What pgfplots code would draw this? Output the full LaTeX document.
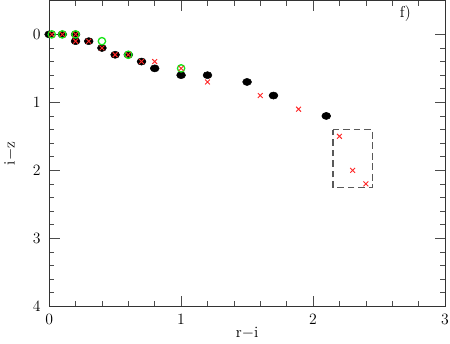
\documentclass[border=0pt]{standalone}
\usepackage{pgfplots}
\pgfplotsset{compat=1.18}
\definecolor{ptred}{rgb}{1,0.15,0.15}
\definecolor{ptgreen}{rgb}{0.1,0.9,0.1}
\begin{document}
\begin{tikzpicture}[trim right=(R)]
  \begin{axis}[
    width = 10.6cm,
    height = 8.19cm,
    scale only axis,
    xmin=0, xmax=3, ymin=-0.5, ymax=4,
    y dir=reverse,
    xtick={0,1,2,3}, ytick={0,1,2,3,4},
    minor x tick num=4, minor y tick num=4,
    tick align=inside,
    major tick length=0.28cm, minor tick length=0.14cm,
    every tick/.style={black!70, line width=0.5pt},
    axis line style={black!80, line width=0.6pt},
    tick label style={font=\large},
    yticklabel style={xshift=-3pt},
    xticklabel style={yshift=-3pt},
    xlabel={r$-$i}, ylabel={i$-$z},
    label style={font=\large},
    xlabel style={yshift=5pt},
    ylabel style={yshift=6pt},
    clip=false
  ]

  % black filled points
  \addplot[only marks, mark=*, mark size=2.7pt, black, mark options={xscale=1.25}]
  coordinates {
    (0,0) (0.1,0) (0.2,0) (0.2,0.1) (0.3,0.1) (0.4,0.2) (0.5,0.3)
    (0.6,0.3) (0.7,0.4) (0.8,0.5) (1.0,0.6) (1.2,0.6) (1.5,0.7)
    (1.7,0.9) (2.1,1.2)
  };

  % green open circles
  \addplot[only marks, mark=o, mark size=2.8pt, ptgreen, line width=1pt]
  coordinates {
    (0.02,0) (0.1,0) (0.2,0) (0.4,0.1) (0.6,0.3) (1.0,0.5)
  };

  % red crosses
  \addplot[only marks, mark=x, mark size=2.6pt, ptred, line width=0.7pt]
  coordinates {
    (0.02,0) (0.1,0) (0.2,0) (0.2,0.1) (0.3,0.1) (0.4,0.2) (0.5,0.3)
    (0.6,0.3) (0.7,0.4) (0.8,0.4) (1.0,0.5) (1.2,0.7) (1.6,0.9)
    (1.89,1.1) (2.2,1.5) (2.3,2.0) (2.4,2.2)
  };

  % dashed box
  \addplot[black!65, line width=1pt, dash pattern=on 5pt off 3pt]
  coordinates {(2.15,1.4) (2.45,1.4) (2.45,2.25) (2.15,2.25) (2.15,1.4)};

  \node[font=\large] at (axis cs:2.7,-0.3) {f)};
  \coordinate (R) at ([xshift=3.8pt]rel axis cs:1,0);
  \end{axis}
\end{tikzpicture}
\end{document}
